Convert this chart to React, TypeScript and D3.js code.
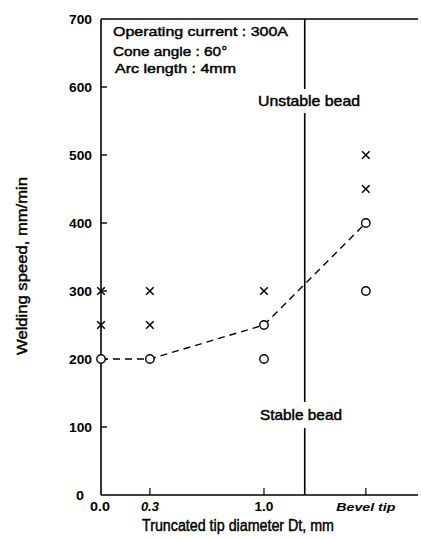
import React from "react";
import * as d3 from "d3";

const xCategories = ["0.0", "0.3", "1.0", "Bevel tip"];
const xPositions = [0, 0.3, 1.0, 1.625];
const italicTick = [false, true, false, true];
const yTicks = [0, 100, 200, 300, 400, 500, 600, 700];
const boundaryX = 1.25;

// unstable (x marks)
const unstableX = [0, 0, 0.3, 0.3, 1.0, 1.625, 1.625];
const unstableY = [300, 250, 300, 250, 300, 500, 450];
// stable (o marks)
const stableX = [0, 0.3, 1.0, 1.0, 1.625, 1.625];
const stableY = [200, 200, 250, 200, 400, 300];
// boundary dashed curve
const curveX = [0, 0.3, 1.0, 1.625];
const curveY = [200, 200, 250, 400];

const infoLines = ["Operating current : 300A", "Cone angle : 60", "Arc length : 4mm"];

export default function App() {
  const W = 421, H = 539;
  const left = 101, right = 418, top = 19, bottom = 495;
  const x = d3.scaleLinear().domain([0, 1.945]).range([left, right]);
  const y = d3.scaleLinear().domain([0, 700]).range([bottom, top]);
  const font = "Arial, 'Liberation Sans', Helvetica, sans-serif";
  const line = d3
    .line<number>()
    .x((_, i) => x(curveX[i]))
    .y((d) => y(d))
    .curve(d3.curveLinear);
  const bx = x(boundaryX);
  const tickW = [20, 18, 19, 59];
  const med = { stroke: "#000", strokeWidth: 0.45, fontWeight: "normal" as const };
  return (
    <svg width={W} height={H} style={{ position: "absolute", left: 0, top: 0, background: "#fff" }} fontFamily={font} fontWeight="bold">
      <rect width={W} height={H} fill="#fff" />
      {/* axes */}
      <line x1={left} y1={top} x2={left} y2={bottom} stroke="#000" strokeWidth={1.6} />
      <line x1={left} y1={bottom} x2={right} y2={bottom} stroke="#000" strokeWidth={1.6} />
      <line x1={left} y1={top} x2={right} y2={top} stroke="#000" strokeWidth={1.6} />
      {/* y ticks */}
      {yTicks.map((t) => (
        <g key={t}>
          {t > 0 && t < 700 && (
            <line x1={left} x2={left + 6} y1={y(t)} y2={y(t)} stroke="#000" strokeWidth={1.4} />
          )}
          <text
            x={t === 0 ? 84 : 92}
            y={y(t) + 4.5}
            textAnchor="end"
            fontSize={12}
            textLength={t === 0 ? 8 : 23}
            lengthAdjust="spacingAndGlyphs"
          >
            {t}
          </text>
        </g>
      ))}
      {/* x ticks */}
      {xPositions.map((p, i) => (
        <g key={i}>
          {p > 0 && <line x1={x(p)} x2={x(p)} y1={bottom} y2={bottom - 7} stroke="#000" strokeWidth={1.2} />}
          <text
            x={x(p) + (i === 0 ? -1 : 0)}
            y={511}
            textAnchor="middle"
            fontSize={i === 3 ? 11.5 : 12}
            fontStyle={italicTick[i] ? "italic" : "normal"}
            textLength={tickW[i]}
            lengthAdjust="spacingAndGlyphs"
          >
            {xCategories[i]}
          </text>
        </g>
      ))}
      {/* boundary vertical line */}
      <line x1={bx} x2={bx} y1={top} y2={89} stroke="#000" strokeWidth={1.6} />
      <line x1={bx} x2={bx} y1={113} y2={402} stroke="#000" strokeWidth={1.6} />
      <line x1={bx} x2={bx} y1={428} y2={bottom} stroke="#000" strokeWidth={1.6} />
      <text x={258} y={106} fontSize={14.5} textLength={102} lengthAdjust="spacingAndGlyphs" {...med}>Unstable bead</text>
      <text x={260} y={420} fontSize={14.5} textLength={82} lengthAdjust="spacingAndGlyphs" {...med}>Stable bead</text>
      {/* info text */}
      <text x={113} y={36} fontSize={13.5} textLength={175} lengthAdjust="spacingAndGlyphs" {...med}>{infoLines[0]}</text>
      <text x={113} y={56} fontSize={13.5} {...med}>
        <tspan textLength={108} lengthAdjust="spacingAndGlyphs">{infoLines[1]}</tspan>
        <tspan dx={1} dy={-6} fontSize={8}>o</tspan>
      </text>
      <text x={115} y={73} fontSize={13.5} textLength={121} lengthAdjust="spacingAndGlyphs" {...med}>{infoLines[2]}</text>
      {/* dashed curve */}
      <path d={line(curveY) || ""} fill="none" stroke="#000" strokeWidth={1.4} strokeDasharray="7,5" />
      {/* markers */}
      {unstableX.map((v, i) => {
        const cx = x(v), cy = y(unstableY[i]), s = 3.8;
        return (
          <g key={"u" + i} stroke="#000" strokeWidth={1.5}>
            <line x1={cx - s} y1={cy - s} x2={cx + s} y2={cy + s} />
            <line x1={cx - s} y1={cy + s} x2={cx + s} y2={cy - s} />
          </g>
        );
      })}
      {stableX.map((v, i) => (
        <circle key={"s" + i} cx={x(v)} cy={y(stableY[i])} r={4.2} fill="#fff" stroke="#000" strokeWidth={1.4} />
      ))}
      {/* axis labels */}
      <text x={142} y={531} fontSize={16} textLength={192} lengthAdjust="spacingAndGlyphs" {...med}>Truncated tip diameter Dt, mm</text>
      <text transform="translate(27,266) rotate(-90)" textAnchor="middle" fontSize={15.5} textLength={178} lengthAdjust="spacingAndGlyphs" {...med}>Welding speed, mm/min</text>
    </svg>
  );
}
